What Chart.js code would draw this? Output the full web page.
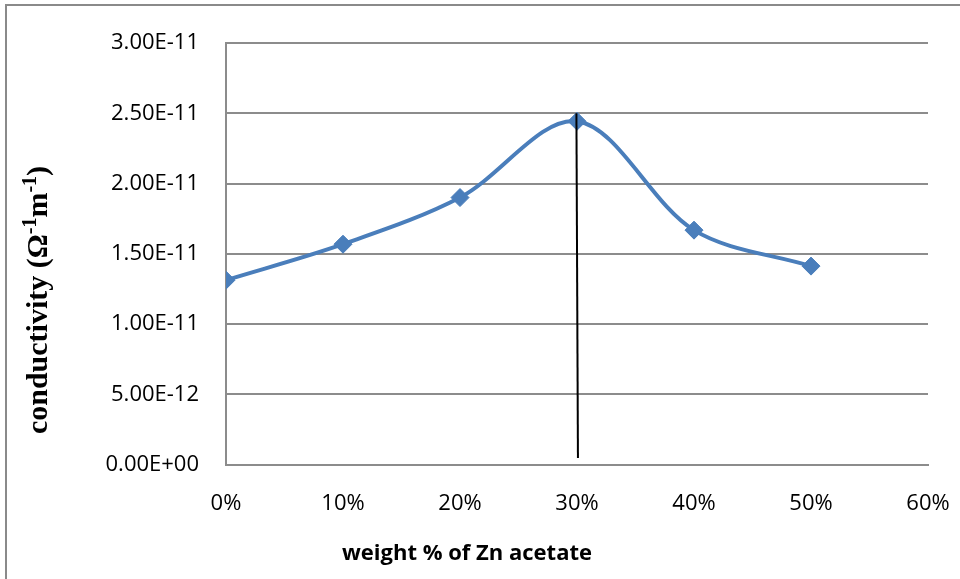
<!DOCTYPE html>
<html>
<head>
<meta charset="utf-8">
<script src="https://cdn.jsdelivr.net/npm/chart.js@4/dist/chart.umd.min.js"></script>
<style>
  html, body { margin: 0; padding: 0; background: #fff; }
  #wrap { width: 960px; height: 579px; position: relative; }
</style>
</head>
<body>
<div id="wrap"><canvas id="c" width="960" height="579"></canvas></div>
<script>
// Conductivity versus Zn acetate loading
const weightPct = [0, 10, 20, 30, 40, 50];
const conductivity = [1.312e-11, 1.568e-11, 1.90e-11, 2.443e-11, 1.668e-11, 1.412e-11];

// Marker line dropped from the peak to the axis
const peakLineX = [29.95, 30.08];
const peakLineY = [2.5e-11, 4.6e-13];

const yTicks = [0, 5e-12, 1e-11, 1.5e-11, 2e-11, 2.5e-11, 3e-11];
const xTitle = 'weight % of Zn acetate';
const yTitleParts = [
  { t: 'conductivity (Ω', sup: false },
  { t: '-1', sup: true },
  { t: 'm', sup: false },
  { t: '-1', sup: true },
  { t: ')', sup: false }
];

const gridGray = '#8c8c8c';
const blue = '#4a7ebb';

const curvePoints = weightPct.map((x, i) => ({ x: x, y: conductivity[i] }));
const peakPoints = peakLineX.map((x, i) => ({ x: x, y: peakLineY[i] }));

// 3.00E-11 style labels
function sciLabel(v) {
  if (v === 0) return '0.00E+00';
  const [m, e] = Number(v).toExponential(2).split('e');
  const n = parseInt(e, 10);
  const sign = n < 0 ? '-' : '+';
  const mag = String(Math.abs(n)).padStart(2, '0');
  return m + 'E' + sign + mag;
}

const frameAndTitles = {
  id: 'frameAndTitles',
  beforeDraw(chart) {
    const ctx = chart.ctx;
    ctx.save();
    ctx.fillStyle = '#ffffff';
    ctx.fillRect(0, 0, chart.width, chart.height);
    ctx.strokeStyle = '#8a8a8a';
    ctx.lineWidth = 2;
    ctx.beginPath();
    ctx.moveTo(6, chart.height);
    ctx.lineTo(6, 5);
    ctx.lineTo(chart.width, 5);
    ctx.stroke();
    ctx.restore();
  },
  afterDraw(chart) {
    const ctx = chart.ctx;
    ctx.save();
    // x axis title
    ctx.fillStyle = '#000';
    ctx.font = 'bold 22px "Open Sans"';
    ctx.textAlign = 'center';
    ctx.textBaseline = 'middle';
    ctx.fillText(xTitle, 467, 554);

    // y axis title, rotated, with superscripts
    const base = 'bold 30px "Liberation Serif"';
    const small = 'bold 20px "Liberation Serif"';
    let total = 0;
    yTitleParts.forEach(p => {
      ctx.font = p.sup ? small : base;
      total += ctx.measureText(p.t).width;
    });
    ctx.translate(37, 300);
    ctx.rotate(-Math.PI / 2);
    ctx.textAlign = 'left';
    ctx.textBaseline = 'alphabetic';
    let x = -total / 2;
    const baseY = 10;
    yTitleParts.forEach(p => {
      ctx.font = p.sup ? small : base;
      ctx.fillText(p.t, x, p.sup ? baseY - 11 : baseY);
      x += ctx.measureText(p.t).width;
    });
    ctx.restore();
  }
};

new Chart(document.getElementById('c'), {
  type: 'line',
  data: {
    datasets: [
      {
        data: curvePoints,
        borderColor: blue,
        backgroundColor: blue,
        borderWidth: 4,
        tension: 0.33,
        pointStyle: 'rectRot',
        pointRadius: 9,
        pointBorderWidth: 1,
        pointBorderColor: blue,
        pointBackgroundColor: blue,
        order: 1
      },
      {
        data: peakPoints,
        borderColor: '#000000',
        borderWidth: 2,
        pointRadius: 0,
        tension: 0,
        order: 0
      }
    ]
  },
  options: {
    responsive: false,
    animation: false,
    events: [],
    layout: { padding: { top: 43, right: 32, left: 0, bottom: 0 } },
    plugins: {
      legend: { display: false },
      tooltip: { enabled: false }
    },
    scales: {
      x: {
        type: 'linear',
        min: 0,
        max: 60,
        afterFit(scale) {
          scale.height = 579 - 464.5;
          scale.paddingLeft = 0;
          scale.paddingRight = 0;
        },
        ticks: {
          stepSize: 10,
          padding: 26,
          color: '#000',
          font: { family: '"Open Sans"', size: 22 },
          callback: v => v + '%'
        },
        grid: { display: false, drawTicks: false },
        border: { display: true, color: gridGray, width: 2 }
      },
      y: {
        min: 0,
        max: 3e-11,
        afterFit(scale) {
          scale.width = 226;
          scale.paddingTop = 0;
          scale.paddingBottom = 0;
        },
        afterBuildTicks(scale) { scale.ticks = yTicks.map(v => ({ value: v })); },
        ticks: {
          padding: 27,
          color: '#000',
          font: { family: '"Open Sans"', size: 22 },
          callback: v => sciLabel(v)
        },
        grid: { color: gridGray, lineWidth: 2, drawTicks: false },
        border: { display: true, color: gridGray, width: 2 }
      }
    }
  },
  plugins: [frameAndTitles]
});
</script>
</body>
</html>
